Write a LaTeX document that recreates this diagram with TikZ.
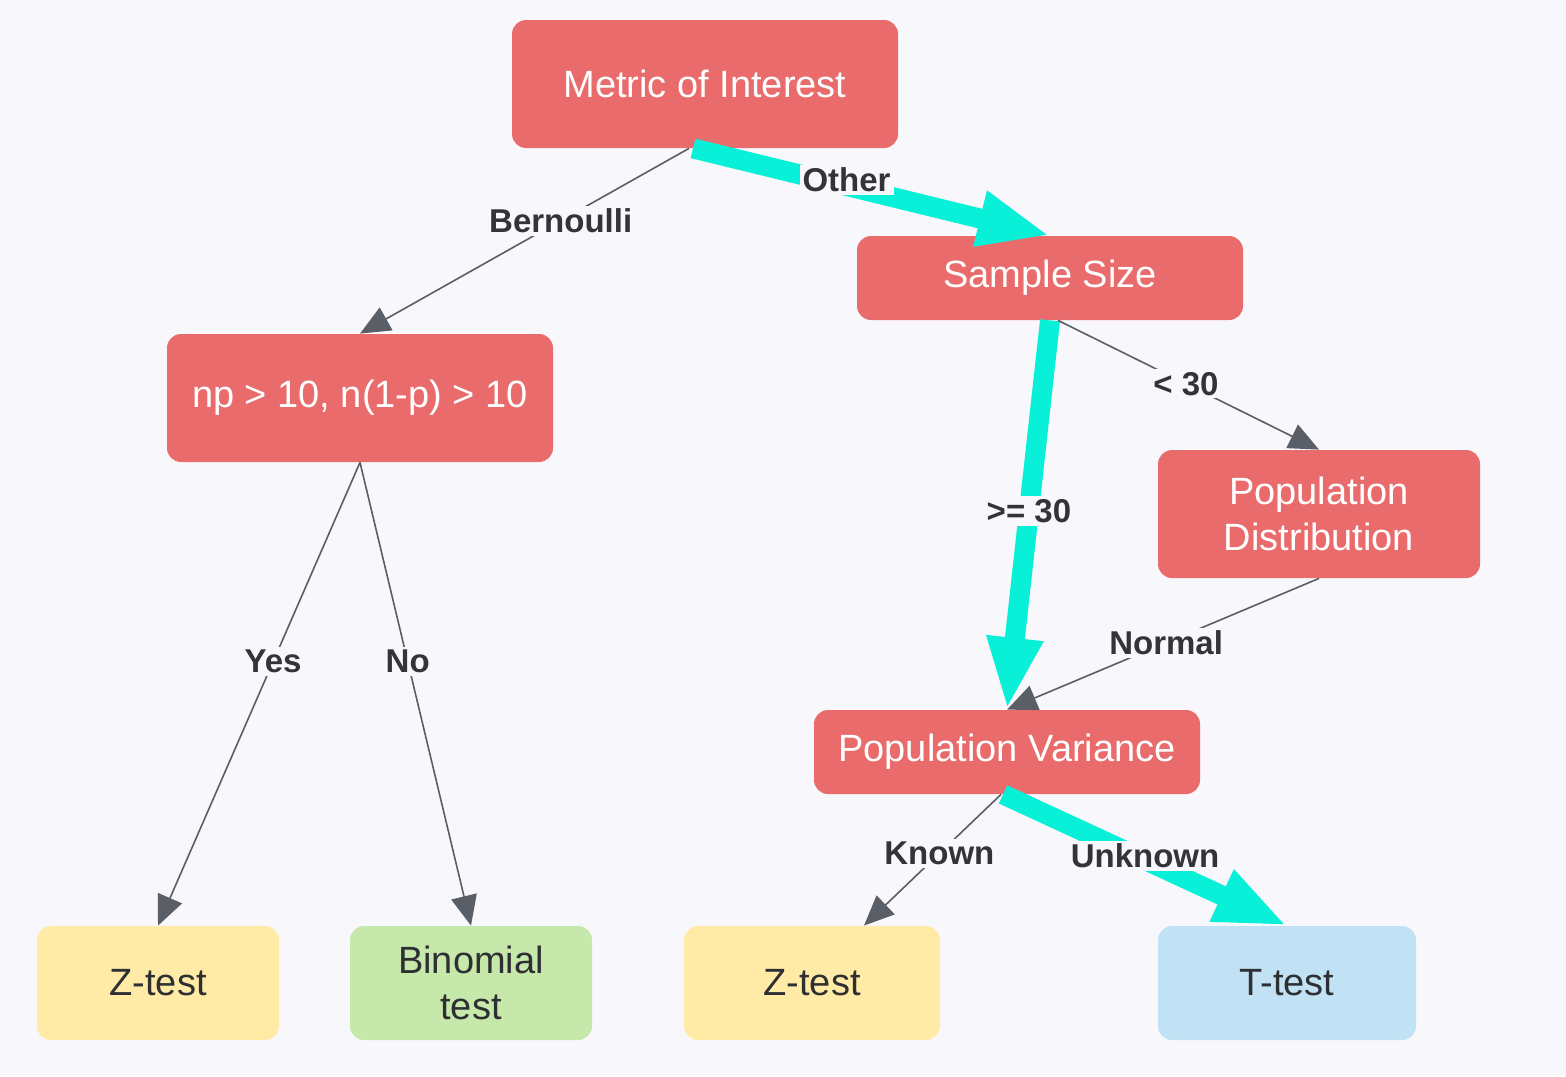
\documentclass[tikz,border=0pt]{standalone}
\usepackage{fontspec}
\setmainfont{Liberation Sans}
\usetikzlibrary{arrows.meta}

\definecolor{bgc}{HTML}{F8F8FC}
\definecolor{boxred}{HTML}{E96B6B}
\definecolor{boxyellow}{HTML}{FFEBA6}
\definecolor{boxgreen}{HTML}{C6E8AA}
\definecolor{boxblue}{HTML}{C0E2F4}
\definecolor{pathcyan}{HTML}{08F0D8}
\definecolor{linegray}{HTML}{5A5E66}
\definecolor{labeltext}{HTML}{333438}

\begin{document}
\begin{tikzpicture}[x=0.5pt,y=-0.5pt,
    box/.style={rounded corners=7pt, inner sep=0pt, align=center,
        font=\fontsize{19}{23}\selectfont},
    decision/.style={box, fill=boxred, text=white},
    leaf/.style={box, text=labeltext!90!black},
    edgelabel/.style={fill=bgc, inner sep=1.5pt, text=labeltext,
        font=\fontsize{16.5}{20}\selectfont\bfseries},
    branch/.style={draw=linegray, line width=0.8pt,
        -{Triangle[length=15pt,width=13pt]}},
    chosen/.style={draw=pathcyan, line width=10pt,
        -{Triangle[length=36pt,width=26pt]}}]
    \fill[bgc] (0,0) rectangle (1566,1076);

    %Decision boxes
    \node[decision, minimum width=193pt, minimum height=64pt] (metric) at (705,84) {Metric of Interest};
    \node[decision, minimum width=193pt, minimum height=42pt] (sample) at (1050,278) {Sample Size};
    \node[decision, minimum width=193pt, minimum height=64pt] (np) at (360,398) {np > 10, n(1-p) > 10};
    \node[decision, minimum width=161pt, minimum height=64pt] (popdist) at (1319,514) {Population\\Distribution};
    \node[decision, minimum width=193pt, minimum height=42pt] (popvar) at (1007,752) {Population Variance};

    %Tests
    \node[leaf, fill=boxyellow, minimum width=121pt, minimum height=57pt] (zleft) at (158,983) {Z-test};
    \node[leaf, fill=boxgreen, minimum width=121pt, minimum height=57pt] (binom) at (471,983) {Binomial\\test};
    \node[leaf, fill=boxyellow, minimum width=128pt, minimum height=57pt] (zright) at (812,983) {Z-test};
    \node[leaf, fill=boxblue, minimum width=129pt, minimum height=57pt] (ttest) at (1287,983) {T-test};

    %Branches
    \draw[branch] ([xshift=-8pt]metric.south) -- (np.north)
        node[edgelabel, pos=0.39] {Bernoulli};
    \draw[chosen] ([xshift=-6pt]metric.south) -- (sample.north)
        node[edgelabel, pos=0.43, yshift=3pt] {Other};
    \draw[chosen] (sample.south) -- (popvar.north)
        node[edgelabel, pos=0.49] {>= 30};
    \draw[branch] ([xshift=4pt]sample.south) -- (popdist.north)
        node[edgelabel, pos=0.49] {< 30};
    \draw[branch] (popdist.south) -- (popvar.north)
        node[edgelabel, pos=0.49] {Normal};
    \draw[branch] (np.south) -- (zleft.north)
        node[edgelabel, pos=0.43] {Yes};
    \draw[branch] (np.south) -- (binom.north)
        node[edgelabel, pos=0.43] {No};
    \draw[branch] ([xshift=-3pt]popvar.south) -- ([xshift=26pt]zright.north)
        node[edgelabel, pos=0.45] {Known};
    \draw[chosen] ([xshift=-2pt]popvar.south) -- (ttest.north)
        node[edgelabel, pos=0.5, yshift=2pt] {Unknown};
\end{tikzpicture}
\end{document}
